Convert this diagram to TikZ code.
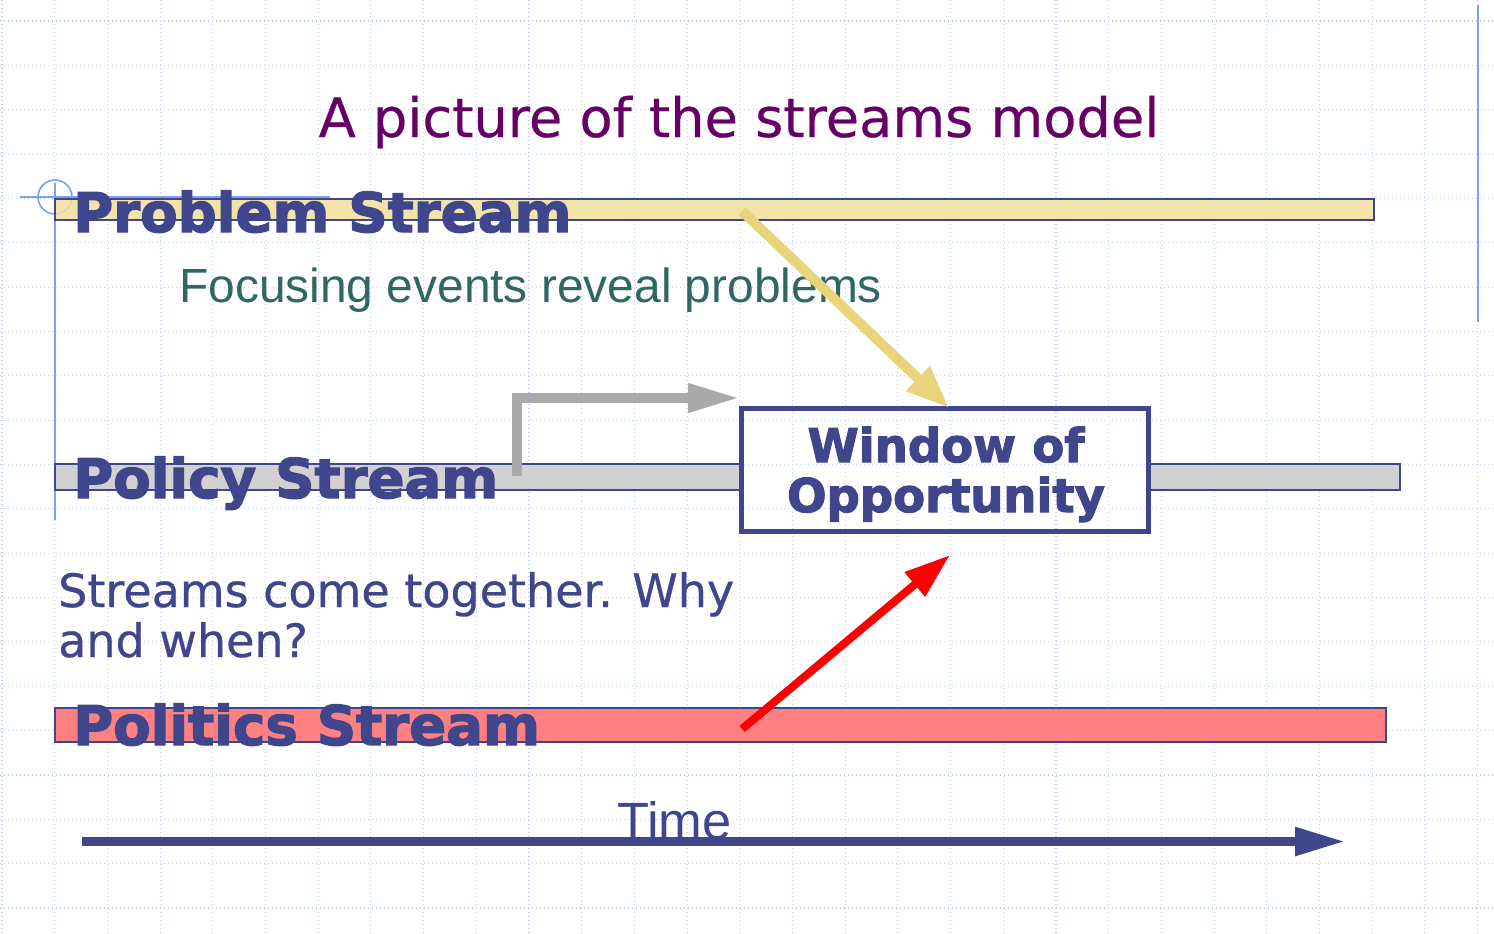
\documentclass[tikz,border=0pt]{standalone}
\usepackage{fontspec}
\setmainfont{DejaVu Sans}
\newfontfamily\arialf{Liberation Sans}
\newfontfamily\heavyf{DejaVu Sans Bold}[FakeBold=2.4]
\newfontfamily\tahf{DejaVu Sans}[FakeBold=0.6]
\newfontfamily\titlef{DejaVu Sans}[FakeBold=0.4]
\usetikzlibrary{arrows.meta}
\definecolor{navy}{RGB}{64,70,140}
\definecolor{ttl}{RGB}{102,0,102}
\definecolor{tealtxt}{RGB}{47,104,98}
\definecolor{gridc}{RGB}{196,208,250}
\definecolor{deco}{RGB}{128,160,240}
\definecolor{probf}{RGB}{240,223,155}
\definecolor{polf}{RGB}{202,202,202}
\definecolor{poltf}{RGB}{255,106,106}
\definecolor{yarr}{RGB}{232,212,122}
\definecolor{garr}{RGB}{170,170,170}
\newcommand\drawgridlines{%
  \foreach \i in {0,...,28} \draw[gridline] ({2+52.7*\i},0) -- ({2+52.7*\i},934);
  \foreach \j in {0,...,20} \draw[gridline] (0,{21+44.35*\j}) -- (1494,{21+44.35*\j});
}
\tikzset{
  gridline/.style={gridc, line width=1.1pt, dash pattern=on 1.4pt off 2.6pt},
  decoline/.style={deco, line width=1.6pt},
  streambar/.style={draw=navy, line width=1.5pt, fill opacity=0.85},
  streamlabel/.style={anchor=base west, inner sep=0pt, text=navy, font=\heavyf\fontsize{54.6}{60}\selectfont},
  plain/.style={anchor=base west, inner sep=0pt},
  bigarrow/.style={line cap=butt},
}
\begin{document}
\begin{tikzpicture}[x=1pt,y=-1pt]
\useasboundingbox (0,0) rectangle (1494,934);
\fill[white] (0,0) rectangle (1494,934);
\drawgridlines
% decorative guide lines
\draw[decoline] (20,197) -- (330,197);
\draw[decoline] (55,183) -- (55,520);
\draw[decoline] (1478,5) -- (1478,322);
\draw[decoline] (55,197) circle[radius=17];
% title
\node[anchor=base, inner sep=0pt, text=ttl, font=\titlef\fontsize{54.2}{60}\selectfont] (title) at (739,137) {A picture of the streams model};
% stream bars
\draw[streambar, fill=probf] (55,199) rectangle (1374,220);
\draw[streambar, fill=polf] (55,464) rectangle (1400,490);
\draw[streambar, fill=poltf] (55,708) rectangle (1386,742);
% labels
\node[streamlabel] (probl) at (73,232) {Problem Stream};
\node[streamlabel] (polil) at (73,498) {Policy Stream};
\node[streamlabel] (polt) at (73,745) {Politics Stream};
\node[plain, text=tealtxt, font=\arialf\fontsize{47.9}{55}\selectfont] (focus) at (179,302) {Focusing events reveal problems};
\node[plain, text=navy, font=\tahf\fontsize{46}{52}\selectfont] (why1) at (58,607) {Streams come together. Why};
\node[plain, text=navy, font=\tahf\fontsize{46}{52}\selectfont] (why2) at (58,657) {and when?};
\node[plain, text=navy, font=\arialf\fontsize{52.5}{55}\selectfont] (time) at (617,839) {Time};
% window box
\node[draw=navy, line width=5pt, fill=white, minimum width=407pt, minimum height=123pt, inner sep=0pt] (win) at (944.5,469.5) {};
\begin{scope}
\clip (742,409) rectangle (1147,530);
\drawgridlines
\end{scope}
\node[anchor=base, inner sep=0pt, text=navy, font=\heavyf\fontsize{46.5}{50}\selectfont] (winA) at (946,462) {Window of};
\node[anchor=base, inner sep=0pt, text=navy, font=\heavyf\fontsize{46.5}{50}\selectfont] (winB) at (946,512) {Opportunity};
% connectors
\coordinate (ys) at (742,211);
\coordinate (yt) at (949,408);
\coordinate (gs) at (517,476);
\coordinate (gt) at (740,398);
\coordinate (rs) at (742,729);
\coordinate (rt) at (950,555);
\coordinate (ts) at (82,841.5);
\coordinate (tt) at (1345,841.5);
\draw[bigarrow, garr, line width=10pt, -{Triangle[length=52pt,width=27pt]}] (gs) |- (gt);
\draw[bigarrow, yarr, line width=10pt, -{Triangle[length=43pt,width=32pt]}] (ys) -- (yt);
\draw[bigarrow, red, line width=8pt, -{Triangle[length=46pt,width=30pt]}] (rs) -- (rt);
\draw[bigarrow, navy, line width=8.5pt, -{Triangle[length=50pt,width=27pt]}] (ts) -- (tt);
\end{tikzpicture}
\end{document}
